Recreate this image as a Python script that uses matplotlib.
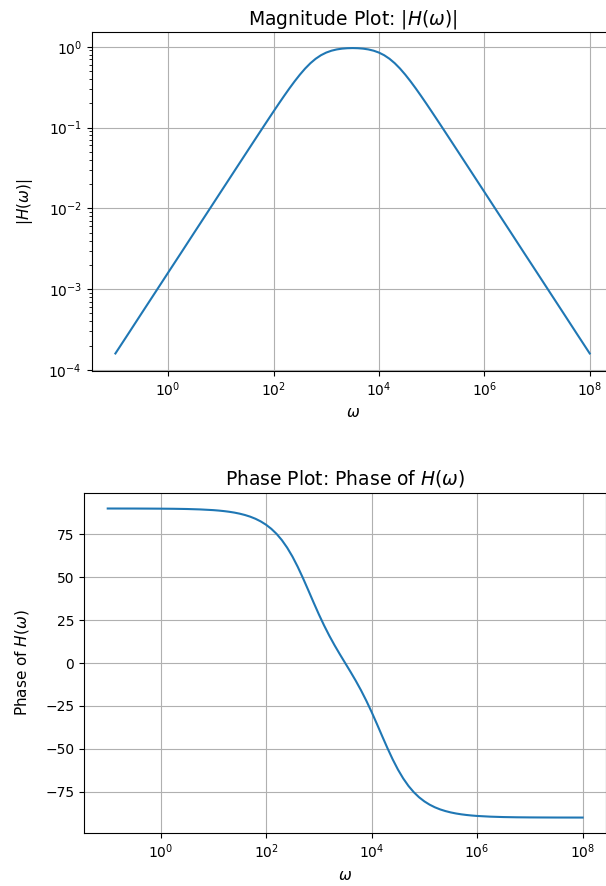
import matplotlib
matplotlib.use("Agg")
import matplotlib.pyplot as plt
import matplotlib.ticker as mticker
import numpy as np

# frequency points, as exponents of 10 (denser where the curves bend)
log_omega = [-1.0, -0.75, -0.5, -0.25, 0.0, 0.25, 0.5, 0.75,
             1.0, 1.1, 1.2, 1.3, 1.4, 1.5, 1.6, 1.7, 1.8, 1.9,
             2.0, 2.1, 2.2, 2.3, 2.4, 2.5, 2.6, 2.7, 2.8, 2.9,
             3.0, 3.1, 3.2, 3.3, 3.4, 3.5, 3.6, 3.7, 3.8, 3.9,
             4.0, 4.1, 4.2, 4.3, 4.4, 4.5, 4.6, 4.7, 4.8, 4.9,
             5.0, 5.1, 5.2, 5.3, 5.4, 5.5, 5.6, 5.7, 5.8, 5.9, 6.0,
             6.25, 6.5, 6.75, 7.0, 7.25, 7.5, 7.75, 8.0]

magnitude = [1.60e-4, 2.84e-4, 5.06e-4, 8.99e-4, 1.60e-3, 2.84e-3, 5.06e-3, 8.99e-3,
             0.01600, 0.02013, 0.02534, 0.03190, 0.04014, 0.05051, 0.06355, 0.07989,
             0.1004, 0.1260,
             0.1579, 0.1974, 0.2457, 0.3041, 0.3727, 0.4511, 0.5370, 0.6252,
             0.7097, 0.7848,
             0.8464, 0.8929, 0.9257, 0.9469, 0.9586, 0.9624, 0.9586, 0.9469,
             0.9257, 0.8929,
             0.8464, 0.7848, 0.7097, 0.6252, 0.5370, 0.4511, 0.3727, 0.3041,
             0.2457, 0.1974,
             0.1579, 0.1260, 0.1004, 0.07989, 0.06355, 0.05051, 0.04014, 0.03190,
             0.02534, 0.02013, 0.01600,
             8.99e-3, 5.06e-3, 2.84e-3, 1.60e-3, 8.99e-4, 5.06e-4, 2.84e-4, 1.60e-4]

phase = [89.99, 89.98, 89.97, 89.94, 89.90, 89.83, 89.70, 89.46,
         89.05, 88.80, 88.49, 88.10, 87.61, 86.99, 86.21, 85.24, 84.01, 82.47,
         80.55, 78.16, 75.21, 71.59, 67.21, 62.04, 56.08, 49.48, 42.48, 35.37,
         28.43, 21.91, 15.87, 10.29, 5.06, 0.0, -5.06, -10.29, -15.87, -21.91,
         -28.43, -35.37, -42.48, -49.48, -56.08, -62.04, -67.21, -71.59, -75.21, -78.16,
         -80.55, -82.47, -84.01, -85.24, -86.21, -86.99, -87.61, -88.10, -88.49, -88.80,
         -89.05,
         -89.46, -89.70, -89.83, -89.90, -89.94, -89.97, -89.98, -89.99]

omega = 10 ** np.array(log_omega)

fig = plt.figure(figsize=(6.06, 8.86), dpi=100)

ax1 = fig.add_axes([0.1513, 0.5816, 0.861, 0.3819])
ax1.loglog(omega, magnitude)
ax1.set_ylim(10 ** -4.009, 10 ** 0.178)
ax1.set_title(r"Magnitude Plot: $|H(\omega)|$", fontsize=13.5)
ax1.set_xlabel(r"$\omega$", fontsize=11)
ax1.set_ylabel(r"$|H(\omega)|$", fontsize=11, labelpad=10)
ax1.yaxis.set_minor_locator(mticker.LogLocator(base=10, subs=np.arange(2, 10), numticks=100))
ax1.yaxis.set_minor_formatter(mticker.NullFormatter())
ax1.grid(True)

ax2 = fig.add_axes([0.1386, 0.0598, 0.862, 0.3837])
ax2.semilogx(omega, phase)
ax2.set_title(r"Phase Plot: Phase of $H(\omega)$", fontsize=13.5)
ax2.set_xlabel(r"$\omega$", fontsize=11, labelpad=5)
ax2.set_ylabel(r"Phase of $H(\omega)$", fontsize=11, labelpad=10)
ax2.grid(True)

for ax in (ax1, ax2):
    ax.xaxis.set_minor_locator(mticker.NullLocator())

fig.savefig("out.png", dpi=100)
